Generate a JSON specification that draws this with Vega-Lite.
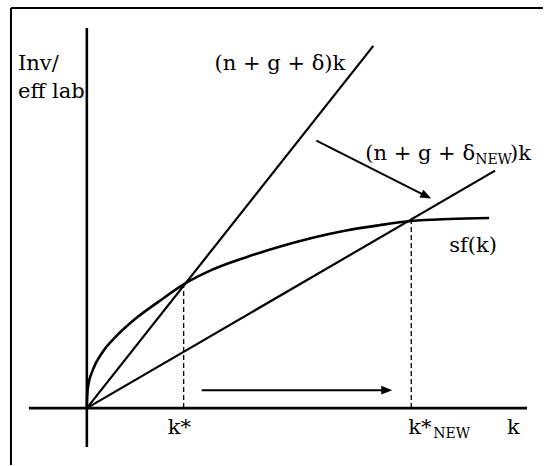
{
  "$schema": "https://vega.github.io/schema/vega-lite/v6.json",
  "width": 544,
  "height": 466,
  "autosize": {"type": "fit", "contains": "padding"},
  "padding": 0,
  "background": "white",
  "config": {"view": {"stroke": null}},
  "datasets": {
    "frame": [
      {"x": -0.76, "y": 4.01, "x2": 4.57, "y2": 4.01},
      {"x": -0.76, "y": 4.01, "x2": -0.76, "y2": -0.57}
    ],
    "axes": [
      {"x": 0, "y": -0.39, "x2": 0, "y2": 3.81},
      {"x": -0.58, "y": 0, "x2": 4.41, "y2": 0}
    ],
    "rays": [
      {"x": 0, "y": 0, "x2": 2.87, "y2": 3.63},
      {"x": 0, "y": 0, "x2": 4.09, "y2": 2.38}
    ],
    "dashes": [
      {"x": 0.97, "y": 0, "x2": 0.97, "y2": 1.24},
      {"x": 3.25, "y": 0, "x2": 3.25, "y2": 1.88}
    ],
    "shafts": [
      {"x": 2.30, "y": 2.68, "x2": 3.40, "y2": 2.125},
      {"x": 1.15, "y": 0.18, "x2": 3.0, "y2": 0.18}
    ],
    "headDiag": [{"x": 3.45, "y": 2.10}],
    "headHoriz": [{"x": 3.06, "y": 0.18}],
    "curve": [
      {"x": 0, "y": 0},
      {"x": 0.003, "y": 0.11},
      {"x": 0.013, "y": 0.223},
      {"x": 0.063, "y": 0.39},
      {"x": 0.157, "y": 0.56},
      {"x": 0.297, "y": 0.723},
      {"x": 0.48, "y": 0.89},
      {"x": 0.71, "y": 1.06},
      {"x": 0.97, "y": 1.24},
      {"x": 1.263, "y": 1.39},
      {"x": 1.597, "y": 1.513},
      {"x": 1.93, "y": 1.617},
      {"x": 2.263, "y": 1.707},
      {"x": 2.597, "y": 1.78},
      {"x": 2.93, "y": 1.833},
      {"x": 3.25, "y": 1.875},
      {"x": 3.63, "y": 1.895},
      {"x": 4.03, "y": 1.905}
    ],
    "labels": [
      {"x": -0.69, "y": 3.39, "t": "Inv/"},
      {"x": -0.69, "y": 3.11, "t": "eff lab"},
      {"x": 1.28, "y": 3.39, "t": "(n + g + δ)k"},
      {"x": 2.79, "y": 2.49, "t": "(n + g + δ"},
      {"x": 4.24, "y": 2.49, "t": ")k"},
      {"x": 3.63, "y": 1.56, "t": "sf(k)"},
      {"x": 0.81, "y": -0.26, "t": "k*"},
      {"x": 3.22, "y": -0.26, "t": "k*"},
      {"x": 4.21, "y": -0.26, "t": "k"}
    ],
    "subs": [
      {"x": 3.89, "y": 2.45, "t": "NEW"},
      {"x": 3.47, "y": -0.30, "t": "NEW"}
    ]
  },
  "encoding": {
    "x": {"field": "x", "type": "quantitative", "scale": {"domain": [-0.87, 4.57], "nice": false, "zero": false}, "axis": null},
    "y": {"field": "y", "type": "quantitative", "scale": {"domain": [-0.57, 4.09], "nice": false, "zero": false}, "axis": null}
  },
  "layer": [
    {
      "data": {"name": "frame"},
      "mark": {"type": "rule", "color": "black", "strokeWidth": 2},
      "encoding": {"x2": {"field": "x2"}, "y2": {"field": "y2"}}
    },
    {
      "data": {"name": "axes"},
      "mark": {"type": "rule", "color": "black", "strokeWidth": 2.6},
      "encoding": {"x2": {"field": "x2"}, "y2": {"field": "y2"}}
    },
    {
      "data": {"name": "rays"},
      "mark": {"type": "rule", "color": "black", "strokeWidth": 2.2},
      "encoding": {"x2": {"field": "x2"}, "y2": {"field": "y2"}}
    },
    {
      "data": {"name": "dashes"},
      "mark": {"type": "rule", "color": "black", "strokeWidth": 1.3, "strokeDash": [5, 3]},
      "encoding": {"x2": {"field": "x2"}, "y2": {"field": "y2"}}
    },
    {
      "data": {"name": "shafts"},
      "mark": {"type": "rule", "color": "black", "strokeWidth": 2},
      "encoding": {"x2": {"field": "x2"}, "y2": {"field": "y2"}}
    },
    {
      "data": {"name": "curve"},
      "mark": {"type": "line", "color": "black", "strokeWidth": 2.6, "interpolate": "monotone"},
      "encoding": {"order": {"field": "x", "type": "quantitative"}}
    },
    {
      "data": {"name": "headDiag"},
      "mark": {"type": "point", "shape": "M0,0L-2,-0.8L-2,0.8Z", "size": 121, "filled": true, "color": "black", "opacity": 1, "angle": 27, "strokeWidth": 0}
    },
    {
      "data": {"name": "headHoriz"},
      "mark": {"type": "point", "shape": "M0,0L-2,-0.8L-2,0.8Z", "size": 121, "filled": true, "color": "black", "opacity": 1, "angle": 0, "strokeWidth": 0}
    },
    {
      "data": {"name": "labels"},
      "mark": {"type": "text", "font": "DejaVu Serif", "fontSize": 21, "align": "left", "baseline": "alphabetic", "color": "black"},
      "encoding": {"text": {"field": "t"}}
    },
    {
      "data": {"name": "subs"},
      "mark": {"type": "text", "font": "DejaVu Serif", "fontSize": 14, "align": "left", "baseline": "alphabetic", "color": "black"},
      "encoding": {"text": {"field": "t"}}
    }
  ]
}
